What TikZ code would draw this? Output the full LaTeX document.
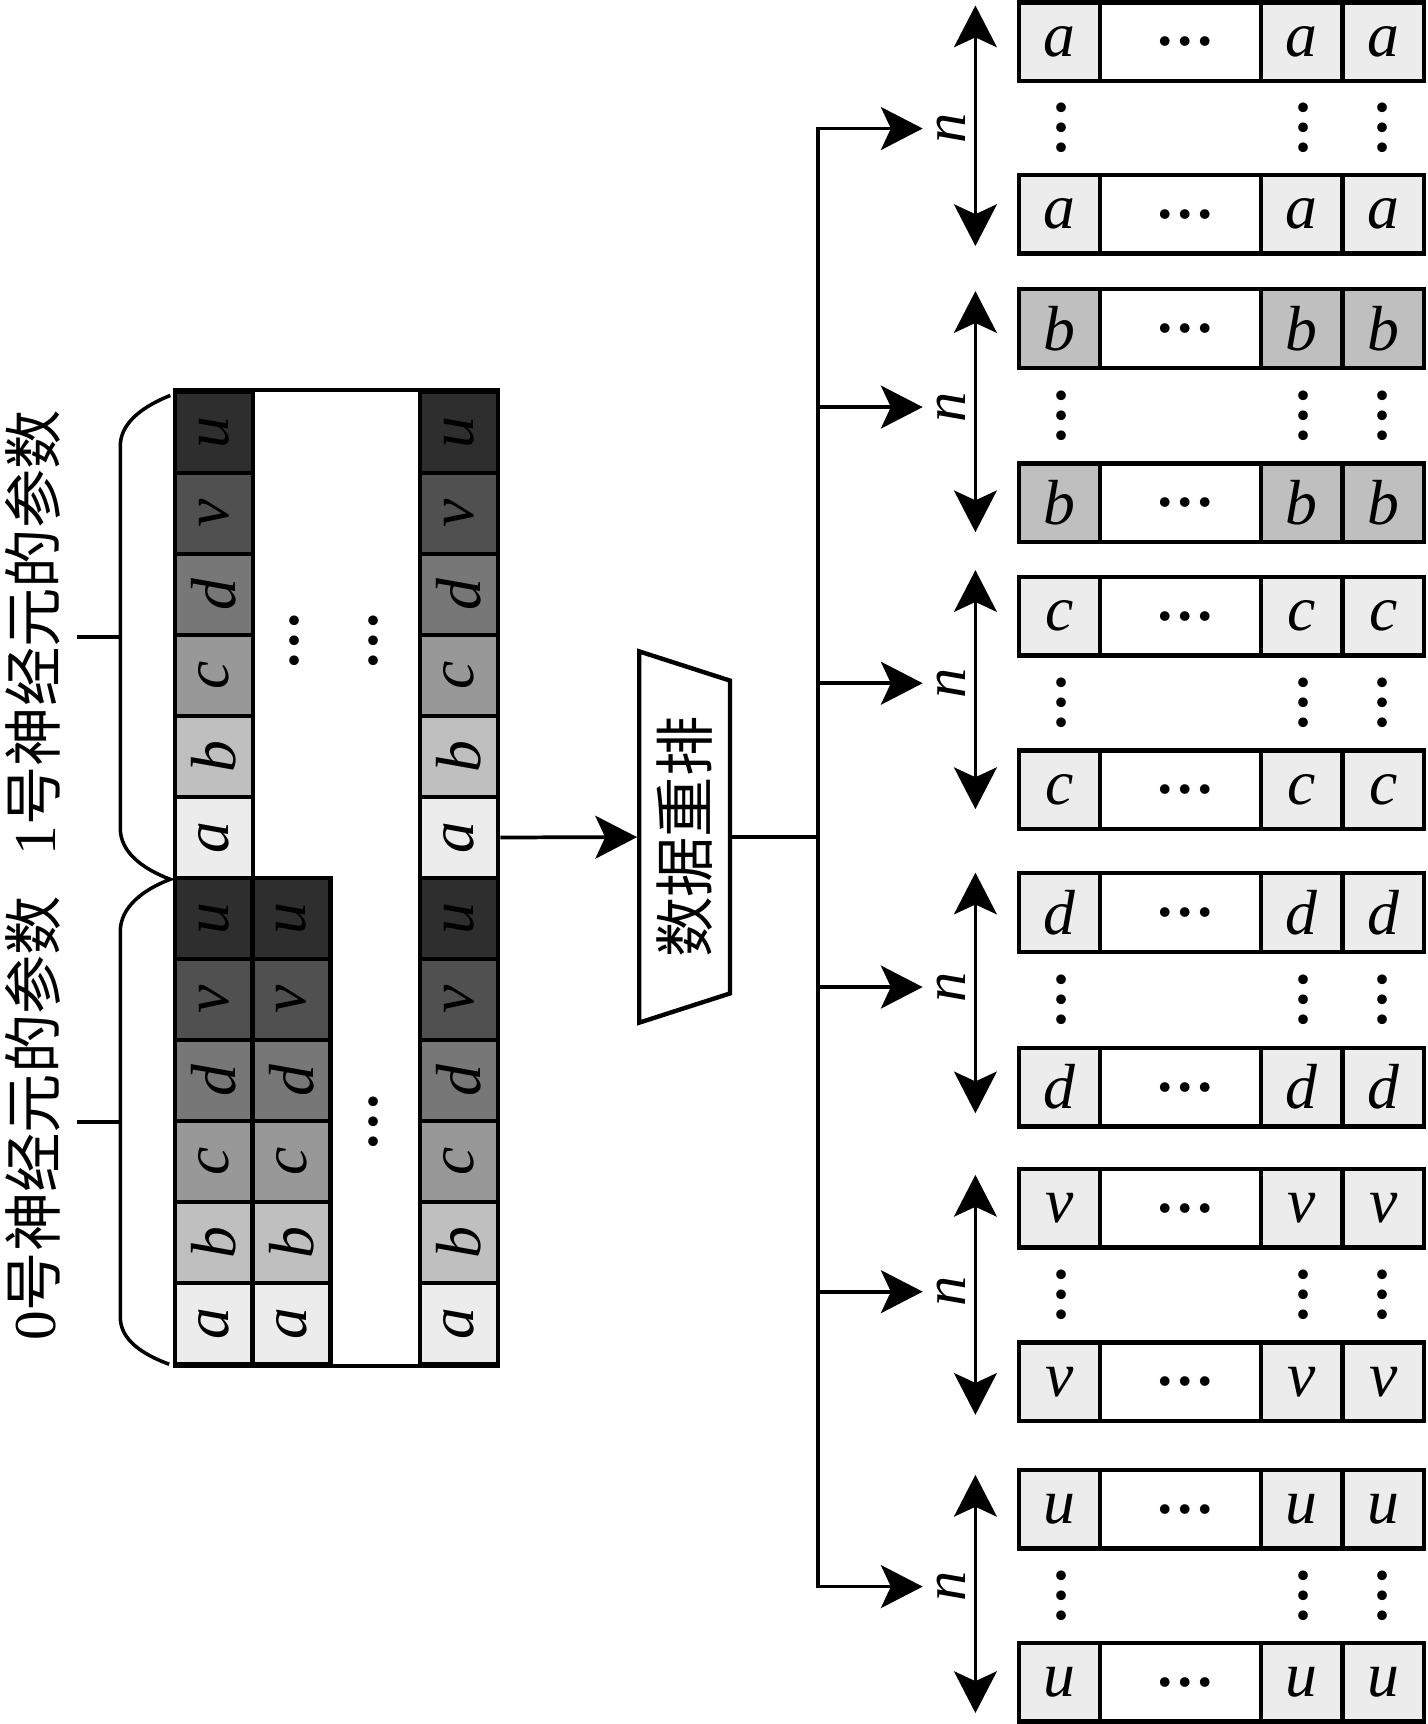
\documentclass[tikz,border=0pt]{standalone}
\usepackage{fontspec}
\setmainfont{Liberation Serif}
\newfontfamily\cjk{Noto Sans CJK SC}
\usetikzlibrary{arrows.meta,shapes.geometric}
\definecolor{shadea}{RGB}{236,236,236}
\definecolor{shadeb}{RGB}{191,191,191}
\definecolor{shadec}{RGB}{152,152,152}
\definecolor{shaded}{RGB}{119,119,119}
\definecolor{shadev}{RGB}{80,80,80}
\definecolor{shadeu}{RGB}{46,46,46}

\begin{document}
\begin{tikzpicture}[x=0.5pt, y=-0.5pt,
        letter/.style={font=\fontsize{29pt}{32pt}\selectfont\itshape},
        cellbox/.style={draw, line width=2pt, inner sep=0pt, minimum width=35.5pt, minimum height=36.87pt, letter},
        slotbox/.style={draw, line width=2pt, inner sep=0pt, minimum height=35.75pt, letter},
        dotsym/.style={inner sep=0pt, font=\fontsize{27pt}{30pt}\selectfont\bfseries},
        neuronlabel/.style={rotate=90, inner sep=0pt, font=\fontsize{27pt}{30pt}\selectfont},
        wire/.style={line width=1.7pt},
        >={Stealth[length=19pt,width=19.5pt,inset=4.5pt]}]
    \useasboundingbox (0,0) rectangle (1300,1569.5);

    % parameters of neuron 1 (up) and neuron 0 (lo)
    \foreach \sym [count=\r from 0] in {u,v,d,c,b,a}{
        \node[cellbox, fill=shade\sym] (up-1-\sym) at (194.7,{357+73.73*(\r+0.5)}) {\rotatebox{90}{\sym}};
        \node[cellbox, fill=shade\sym] (up-n-\sym) at (418,{357+73.73*(\r+0.5)}) {\rotatebox{90}{\sym}};
        \node[cellbox, fill=shade\sym] (lo-1-\sym) at (194.7,{357+73.73*(\r+6.5)}) {\rotatebox{90}{\sym}};
        \node[cellbox, fill=shade\sym] (lo-2-\sym) at (265.4,{357+73.73*(\r+6.5)}) {\rotatebox{90}{\sym}};
        \node[cellbox, fill=shade\sym] (lo-n-\sym) at (418,{357+73.73*(\r+6.5)}) {\rotatebox{90}{\sym}};
    }
    \draw[line width=2pt] (up-1-u.north west) -- (up-n-u.north east);
    \draw[line width=2pt] (lo-1-a.south west) -- (lo-n-a.south east);
    \node[dotsym, rotate=90] (up-gap-1) at (268.5,583.5) {…};
    \node[dotsym, rotate=90] (up-gap-2) at (340,583.5) {…};
    \node[dotsym, rotate=90] (lo-gap) at (340,1021.5) {…};

    % braces and labels
    \draw[line width=1.6pt] (155,360) .. controls (130,370) and (109.5,385) .. (109.5,406)
        -- (109.5,754) .. controls (109.5,776) and (130,791) .. (155,800.5)
        .. controls (130,810) and (109.5,826) .. (109.5,848)
        -- (109.5,1199) .. controls (109.5,1220) and (130,1233) .. (154,1242);
    \draw[line width=1.6pt] (70,580) -- (109.5,580);
    \draw[line width=1.6pt] (70,1021.5) -- (109.5,1021.5);
    \node[neuronlabel] (name-1) at (30.3,576) {1{\cjk 号神经元的参数}};
    \node[neuronlabel] (name-0) at (30.3,1018) {0{\cjk 号神经元的参数}};

    % rearrangement
    \node[draw, line width=2pt, trapezium, trapezium angle=68, trapezium stretches=true,
        shape border rotate=180, rotate=90, minimum width=169pt, minimum height=41.3pt,
        inner sep=0pt, font=\cjk\fontsize{27.5pt}{30pt}\selectfont] (sort) at (623.3,762) {数据重排};
    \draw[wire,->] (up-n-a) -- (sort);

    % rearranged rows
    \foreach \sym/\sh/\ya/\yb/\yn/\yt/\ye in {a/shadea/38/195/117/5/224,
            b/shadeb/299/457.8/370.6/265/484.5, c/shadea/561/719/622/519/736.6,
            d/shadea/830.7/989.7/898.6/794.4/1013.5, v/shadea/1100/1258/1175.9/1069.6/1288,
            u/shadea/1373.8/1531.6/1444.4/1342.7/1559.5}{
        \foreach \row/\yy in {1/\ya,2/\yb}{
            \node[slotbox, minimum width=37pt, fill=\sh] (\sym-\row-1) at (964.5,\yy) {\sym};
            \node[slotbox, minimum width=73.25pt, dotsym] (\sym-\row-m) at (1074.75,\yy) {\hspace*{4pt}…};
            \node[slotbox, minimum width=37.15pt, fill=\sh] (\sym-\row-3) at (1185.15,\yy) {\sym};
            \node[slotbox, minimum width=37.15pt, fill=\sh] (\sym-\row-4) at (1259.45,\yy) {\sym};
        }
        \node[dotsym, rotate=90] (\sym-gap-1) at (966.6,{(\ya+\yb)/2}) {…};
        \node[dotsym, rotate=90] (\sym-gap-3) at (1187,{(\ya+\yb)/2}) {…};
        \node[dotsym, rotate=90] (\sym-gap-4) at (1259,{(\ya+\yb)/2}) {…};
        \coordinate (bus-\sym) at (745,\yn);
        \coordinate (tip-\sym) at (840,\yn);
        \draw[wire,->] (bus-\sym) -- (tip-\sym);
        \node[letter, rotate=90, inner sep=0pt, font=\fontsize{27.5pt}{30pt}\selectfont\itshape] (n-\sym) at (866,\yn) {n};
        \coordinate (top-\sym) at (888,\yt);
        \coordinate (bot-\sym) at (888,\ye);
        \draw[line width=1.5pt,<->] (top-\sym) -- (bot-\sym);
    }
    \draw[wire, line cap=rect] (bus-a) -- (bus-u);
    \draw[wire] (sort) -- (sort -| bus-a);
\end{tikzpicture}
\end{document}
